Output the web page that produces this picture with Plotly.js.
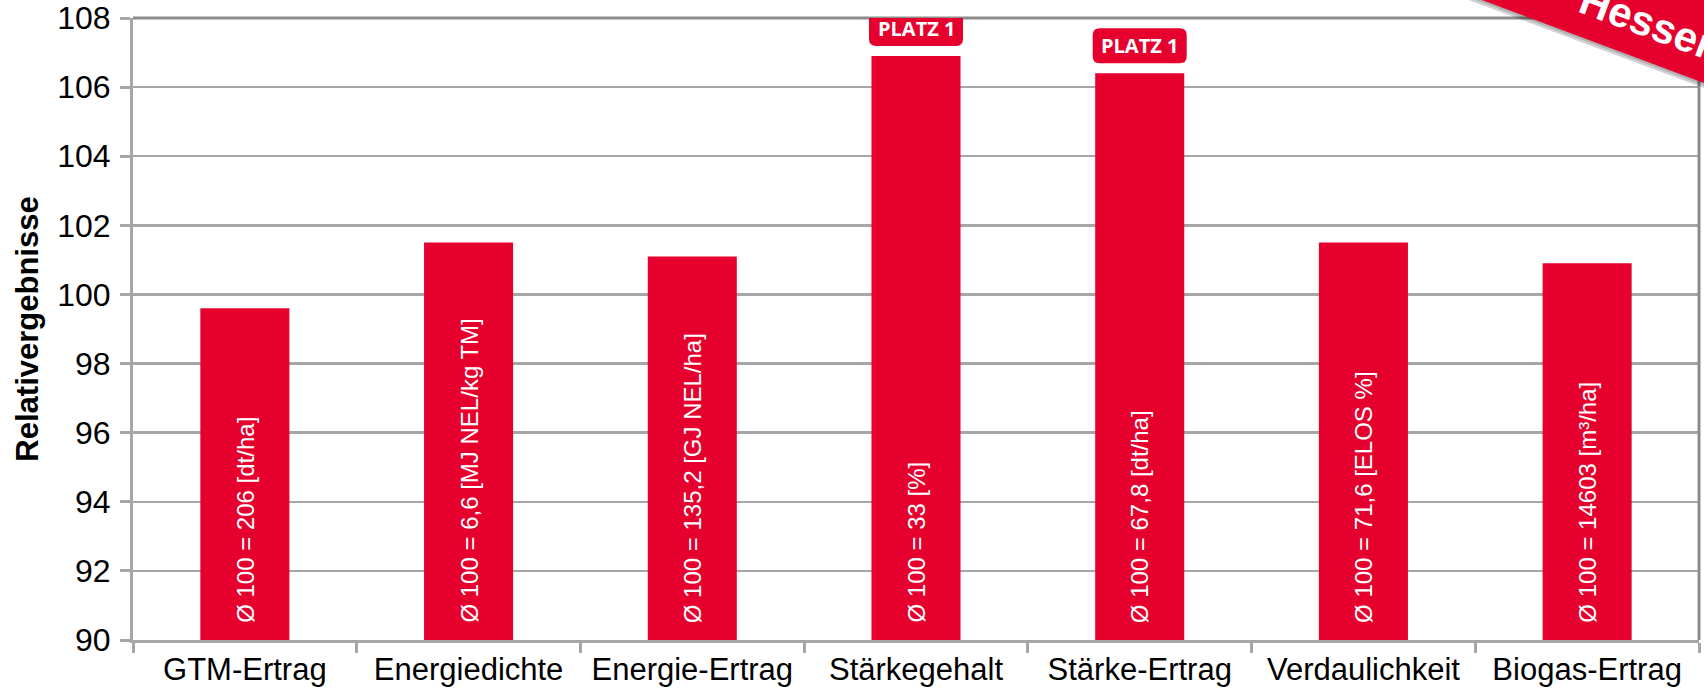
<!DOCTYPE html>
<html>
<head>
<meta charset="utf-8">
<script src="https://cdn.plot.ly/plotly-3.0.1.min.js"></script>
<style>html,body{margin:0;padding:0;background:#fff;}#chart{width:1704px;height:688px;}</style>
</head>
<body>
<div id="chart"></div>
<script>
// ---- data ----
const categories = ['GTM-Ertrag','Energiedichte','Energie-Ertrag','Stärkegehalt','Stärke-Ertrag','Verdaulichkeit','Biogas-Ertrag'];
const relValues = [99.6, 101.5, 101.1, 106.9, 106.4, 101.5, 100.9];
const barLabels = [
  'Ø 100 = 206 [dt/ha]',
  'Ø 100 = 6,6 [MJ NEL/kg TM]',
  'Ø 100 = 135,2 [GJ NEL/ha]',
  'Ø 100 = 33 [%]',
  'Ø 100 = 67,8 [dt/ha]',
  'Ø 100 = 71,6 [ELOS %]',
  'Ø 100 = 14603 [m³/ha]'
];
const badgeCategories = ['Stärkegehalt','Stärke-Ertrag'];
const badgeText = 'PLATZ 1';
const yTickVals = [90,92,94,96,98,100,102,104,106,108];
const referenceLevel = 100;
const yTitle = 'Relativergebnisse';
const ribbonText = 'Hessen';

// ---- layout constants ----
const RED = '#E6002D';
const GRID = '#A6A6A6';
const M = {l:133, r:5, t:18, b:48};
const W = 1704, H = 688;
const PW = W - M.l - M.r, PH = H - M.t - M.b;
const px = x => (x - M.l) / PW;
const py = y => (H - M.b - y) / PH;

const traces = [{
  type: 'bar',
  x: categories,
  y: relValues,
  marker: {color: RED, line: {width: 0}},
  hoverinfo: 'skip'
}];

const shapes = [];
// reference line at 100
shapes.push({type:'line', xref:'paper', x0:0, x1:1, yref:'y', y0:referenceLevel, y1:referenceLevel,
  line:{color:RED, width:3}, layer:'below'});
// darker top and right frame lines
shapes.push({type:'line', xref:'paper', yref:'paper', x0:0, x1:1, y0:1, y1:1, line:{color:'#8C8C8C', width:3}, layer:'above'});
shapes.push({type:'line', xref:'paper', yref:'paper', x0:1, x1:1, y0:0, y1:1, line:{color:'#8C8C8C', width:3}, layer:'above'});

// badges
const badgePath = 'M -40,10 L 40,10 Q 47,10 47,17 L 47,38 Q 47,45 40,45 L -40,45 Q -47,45 -47,38 L -47,17 Q -47,10 -40,10 Z';
const annotations = [];
badgeCategories.forEach(c => {
  const i = categories.indexOf(c);
  shapes.push({type:'path', xref:'x', yref:'y', xsizemode:'pixel', ysizemode:'pixel',
    xanchor:i, yanchor:relValues[i], path:badgePath, fillcolor:RED, line:{width:0}, layer:'above'});
  annotations.push({x:i, y:relValues[i], xref:'x', yref:'y', text:'<b>'+badgeText+'</b>', showarrow:false,
    yanchor:'middle', xanchor:'center', yshift:28,
    font:{family:'Open Sans, Liberation Sans, Arial, sans-serif', size:20, color:'#fff'}});
});

// labels inside bars
barLabels.forEach((t,i) => {
  annotations.push({x:i, y:yTickVals[0], xref:'x', yref:'y', text:t, textangle:-90, showarrow:false,
    xanchor:'center', yanchor:'bottom', yshift:15,
    font:{family:'Liberation Sans, Arial, sans-serif', size:24, color:'#fff'}});
});

// corner ribbon (decoration)
const slope = 0.374;
const lowerY = x => (x - 1482) * slope;
const thick = 92;
function poly(dy){
  const pts = [[1380, lowerY(1380)+dy],[1760, lowerY(1760)+dy],[1760, lowerY(1760)-thick+dy],[1380, lowerY(1380)-thick+dy]];
  return 'M ' + pts.map(p => px(p[0]).toFixed(5)+','+py(p[1]).toFixed(5)).join(' L ') + ' Z';
}
shapes.push({type:'path', xref:'paper', yref:'paper', path:poly(5), fillcolor:'rgba(0,0,0,0.18)', line:{width:0}, layer:'above'});
shapes.push({type:'path', xref:'paper', yref:'paper', path:poly(2.5), fillcolor:'rgba(0,0,0,0.15)', line:{width:0}, layer:'above'});
shapes.push({type:'path', xref:'paper', yref:'paper', path:poly(0), fillcolor:RED, line:{width:0}, layer:'above'});
annotations.push({xref:'paper', yref:'paper', x:px(1651), y:py(lowerY(1651)-40), text:'<b>'+ribbonText+'</b>',
  textangle:20.5, showarrow:false, xanchor:'center', yanchor:'middle',
  font:{family:'Liberation Sans, Arial, sans-serif', size:42, color:'#fff'}});

const layout = {
  width: W, height: H,
  margin: M,
  paper_bgcolor:'#fff', plot_bgcolor:'#fff',
  showlegend:false,
  hovermode:false,
  bargap: 0.602,
  font:{family:'Liberation Sans, Arial, sans-serif', color:'#000'},
  xaxis: {
    type:'category',
    tickson:'boundaries',
    ticks:'outside', ticklen:10, tickwidth:3, tickcolor:GRID,
    showline:true, linecolor:GRID, linewidth:3,
    showgrid:false,
    tickfont:{size:31, color:'#000'},
    fixedrange:true
  },
  yaxis: {
    range:[90,108],
    tickvals: yTickVals,
    ticktext: yTickVals.map(String),
    ticks:'outside', ticklen:10, tickwidth:3, tickcolor:GRID,
    showline:true, linecolor:GRID, linewidth:3,
    showgrid:true, gridcolor:GRID, gridwidth:2.5,
    zeroline:false,
    tickfont:{size:32, color:'#000'},
    ticklabelstandoff:3,
    title:{text:'<b>'+yTitle+'</b>', font:{size:31, color:'#000'}, standoff:10},
    fixedrange:true
  },
  shapes: shapes,
  annotations: annotations
};

Plotly.newPlot('chart', traces, layout, {displayModeBar:false, staticPlot:true});
</script>
</body>
</html>
